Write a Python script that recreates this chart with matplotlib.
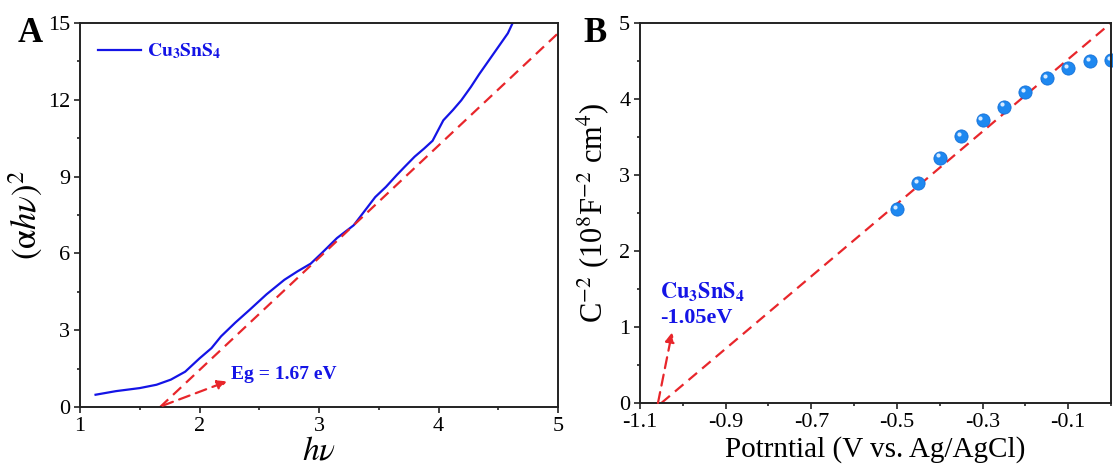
import matplotlib
matplotlib.use("Agg")
import matplotlib.pyplot as plt
import matplotlib.transforms as mtransforms

plt.rcParams["font.family"] = ["Liberation Serif", "DejaVu Serif"]
plt.rcParams["mathtext.fontset"] = "stix"

# Panel A: Tauc plot
hv = [1.13, 1.3, 1.5, 1.64, 1.76, 1.88, 2.0, 2.1, 2.18, 2.3, 2.42, 2.56, 2.71, 2.82,
      2.93, 3.02, 3.15, 3.29, 3.38, 3.47, 3.56, 3.65, 3.72, 3.8, 3.88, 3.95, 4.04,
      4.12, 4.19, 4.27, 4.34, 4.4, 4.46, 4.52, 4.58, 4.62]
ahv2 = [0.48, 0.62, 0.74, 0.87, 1.07, 1.38, 1.9, 2.3, 2.76, 3.3, 3.8, 4.4, 4.97, 5.3,
        5.6, 6.0, 6.6, 7.1, 7.65, 8.2, 8.6, 9.06, 9.4, 9.78, 10.1, 10.4, 11.2,
        11.6, 11.98, 12.5, 13.0, 13.4, 13.8, 14.2, 14.6, 15.0]
fit_a_x = [1.67, 5.0]
fit_a_y = [0.0, 14.6]

# Panel B: Mott-Schottky
pot = [-0.5, -0.45, -0.4, -0.35, -0.3, -0.25, -0.2, -0.15, -0.1, -0.05, 0.0]
c2 = [2.55, 2.89, 3.23, 3.51, 3.72, 3.9, 4.09, 4.27, 4.41, 4.5, 4.51]
fit_b_x = [-1.05, 0.0]
fit_b_y = [0.0, 5.0]

blue = "#1414e6"
red = "#e8262b"

fig = plt.figure(figsize=(11.13, 4.68), dpi=100)
axA = fig.add_axes([0.0719, 0.1303, 0.4295, 0.8205])
axB = fig.add_axes([0.575, 0.1389, 0.4232, 0.812])

for ax in (axA, axB):
    ax.tick_params(which="both", direction="out", top=False, right=False,
                   labelsize=16, width=1.2, colors="#222222", labelcolor="black")
    ax.tick_params(which="major", length=4, pad=3)
    ax.tick_params(which="minor", length=2.5)
    for s in ax.spines.values():
        s.set_linewidth(1.4)
        s.set_color("#222222")

# ---- A ----
axA.plot(hv, ahv2, color=blue, lw=1.6, label=r"$\mathbf{Cu_3SnS_4}$")
axA.plot(fit_a_x, fit_a_y, color=red, lw=1.6, ls=(0, (5, 3)))
axA.annotate("", xy=(2.23, 1.0), xytext=(1.69, 0.05),
             arrowprops=dict(arrowstyle="-|>", color=red, lw=1.6, ls=(0, (5, 3)),
                             mutation_scale=14, shrinkA=0, shrinkB=0))
axA.text(2.26, 1.28, "Eg = 1.67 eV", color=blue, fontsize=14, fontweight="bold",
         va="center")
axA.set_xlim(1, 5)
axA.set_ylim(0, 15)
axA.set_xticks([1, 2, 3, 4, 5])
axA.set_xticks([1.5, 2.5, 3.5, 4.5], minor=True)
axA.set_yticks([0, 3, 6, 9, 12, 15])
axA.set_yticks([1.5, 4.5, 7.5, 10.5, 13.5], minor=True)
axA.set_xlabel(r"$h\nu$", fontsize=24, labelpad=0)
axA.set_ylabel(r"$(\mathrm{\alpha}h\nu)^2$", fontsize=25, labelpad=2)
leg = axA.legend(loc="upper left", frameon=False, fontsize=14, handlelength=2.2,
                 handletextpad=0.3, borderaxespad=0.55)
for t in leg.get_texts():
    t.set_color(blue)

# ---- B ----
axB.plot(fit_b_x, fit_b_y, color=red, lw=1.6, ls=(0, (5, 3)))
axB.plot(pot, c2, "o", color="#1e88f0", ms=9.5, mec="#1570d8", mew=0.6, clip_on=False)
hl = mtransforms.offset_copy(axB.transData, fig=fig, x=-1.5, y=1.5, units="points")
axB.plot(pot, c2, "o", color="#d6eaff", ms=3, mew=0, transform=hl, clip_on=False)
axB.annotate("", xy=(-1.025, 0.93), xytext=(-1.058, 0.0),
             arrowprops=dict(arrowstyle="-|>", color=red, lw=1.6, ls=(0, (5, 3)),
                             mutation_scale=14, shrinkA=0, shrinkB=0))
axB.text(-1.053, 1.45, r"$\mathbf{Cu_3SnS_4}$", color=blue, fontsize=16,
         fontweight="bold", va="center")
axB.text(-1.053, 1.12, "-1.05eV", color=blue, fontsize=16, fontweight="bold",
         va="center")
axB.set_xlim(-1.1, 0.0)
axB.set_ylim(0, 5)
axB.set_xticks([-1.1, -0.9, -0.7, -0.5, -0.3, -0.1])
axB.set_xticklabels(["-1.1", "-0.9", "-0.7", "-0.5", "-0.3", "-0.1"])
axB.set_xticks([-1.0, -0.8, -0.6, -0.4, -0.2, 0.0], minor=True)
axB.set_yticks([0, 1, 2, 3, 4, 5])
axB.set_yticks([0.5, 1.5, 2.5, 3.5, 4.5], minor=True)
axB.set_xlabel("Potrntial (V vs. Ag/AgCl)", fontsize=21, labelpad=3)
axB.set_ylabel("C$^{\\mathsf{-}2}$ (10$^{8}$F$^{\\mathsf{-}2}$ cm$^{4}$)",
               fontsize=22, labelpad=5)

fig.text(0.027, 0.929, "A", fontsize=25, fontweight="bold", ha="center", va="center")
fig.text(0.5346, 0.929, "B", fontsize=25, fontweight="bold", ha="center", va="center")

fig.savefig("out.png", dpi=100)
